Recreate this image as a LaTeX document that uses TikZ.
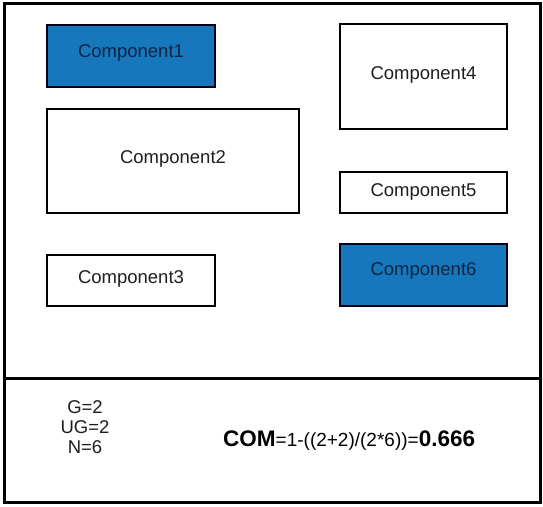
\documentclass[tikz,border=0pt]{standalone}
\usepackage{fontspec}
\setmainfont{Liberation Sans}
\definecolor{compblue}{HTML}{1677BD}
\definecolor{navytext}{HTML}{10243F}
\definecolor{inktext}{HTML}{1E1E1E}
\begin{document}
\begin{tikzpicture}[x=1pt,y=-1pt,
  comp/.style={draw=black,line width=2pt,inner sep=0pt,anchor=north west,text=inktext},
  hot/.style={comp,fill=compblue,draw=black!90!blue},
  label/.style={font=\fontsize{18.5}{20}\selectfont,text=inktext,inner sep=0pt},
  hotlabel/.style={label,text=navytext},
  stat/.style={font=\fontsize{18.5}{20}\selectfont,text=inktext,inner sep=0pt,anchor=base},
]
\useasboundingbox (0,0) rectangle (543,506);
% outer frame and divider of the summary panel
\draw[line width=2.5pt] (4.5,3.5) rectangle (540.5,502.5);
\coordinate (divL) at (4.5,378);
\coordinate (divR) at (540.5,378);
\draw[line width=3pt] (divL) -- (divR);

% components
\node[hot,minimum width=168pt,minimum height=62pt] (c1) at (46,24) {};
\node[hotlabel] (t1) at ([yshift=3pt]c1.center) {Component1};
\node[comp,minimum width=167pt,minimum height=105pt] (c4) at (339,23) {};
\node[label] (t4) at ([yshift=1.5pt]c4.center) {Component4};
\node[comp,minimum width=252pt,minimum height=104pt] (c2) at (46,108) {};
\node[label] (t2) at ([yshift=2pt]c2.center) {Component2};
\node[comp,minimum width=167pt,minimum height=41pt] (c5) at (339,170.5) {};
\node[label] (t5) at ([yshift=0.5pt]c5.center) {Component5};
\node[comp,minimum width=168pt,minimum height=51pt] (c3) at (46,254) {};
\node[label] (t3) at ([yshift=1.5pt]c3.center) {Component3};
\node[hot,minimum width=167pt,minimum height=62pt] (c6) at (339,243) {};
\node[hotlabel] (t6) at ([yshift=4pt]c6.center) {Component6};

% metric values
\node[stat] (g) at (85,413) {G=2};
\node[stat] (ug) at (85,433) {UG=2};
\node[stat] (n) at (85,453) {N=6};

% cohesion formula
\node[inner sep=0pt,anchor=base west,text=black] (com) at (223,446)
  {\fontsize{22.5}{24}\selectfont\bfseries COM\fontsize{19}{20}\selectfont\mdseries=1-((2+2)/(2*6))=\fontsize{22.5}{24}\selectfont\bfseries 0.666};
\end{tikzpicture}
\end{document}
